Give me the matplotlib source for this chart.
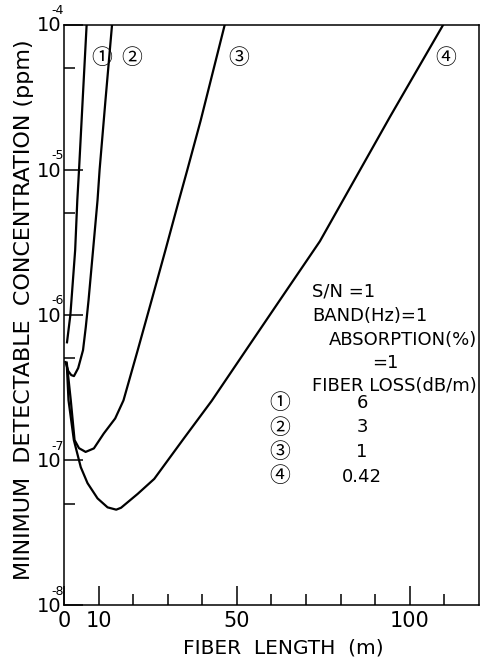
import matplotlib
matplotlib.use('Agg')
import matplotlib.pyplot as plt
from matplotlib.ticker import FixedLocator, NullFormatter

# fiber length (m) and minimum detectable concentration (ppm)
len_1 = [0.87, 1.85, 3.23, 3.85, 4.35, 5.40, 6.55]
conc_1 = [6.46e-7, 1.0e-6, 2.79e-6, 6.17e-6, 1.0e-5, 3.02e-5, 1.0e-4]

len_2 = [0.43, 1.24, 2.1, 2.88, 4.1, 5.5, 6.3, 7.1, 8.4, 9.7, 10.3, 12.0, 13.9]
conc_2 = [4.72e-7, 4.09e-7, 3.84e-7, 3.78e-7, 4.29e-7, 5.70e-7, 8.22e-7,
          1.26e-6, 2.78e-6, 6.17e-6, 1.0e-5, 3.02e-5, 1.0e-4]

len_3 = [0.8, 1.96, 3.06, 4.33, 6.25, 8.64, 11.5, 14.8, 17.2, 21.3, 25.3,
         29.3, 33.2, 35.6, 39.5, 46.5]
conc_3 = [4.68e-7, 2.58e-7, 1.37e-7, 1.205e-7, 1.135e-7, 1.20e-7, 1.52e-7,
          1.93e-7, 2.57e-7, 5.68e-7, 1.25e-6, 2.77e-6, 6.11e-6, 9.84e-6,
          2.17e-5, 1.0e-4]

len_4 = [0.8, 1.3, 2.85, 4.85, 6.8, 9.7, 12.6, 15.1, 16.5, 21.3, 26.1, 34.6,
         42.7, 53.1, 61.6, 74.0, 94.3, 109.7]
conc_4 = [4.57e-7, 2.58e-7, 1.37e-7, 8.91e-8, 6.92e-8, 5.43e-8, 4.71e-8,
          4.54e-8, 4.68e-8, 5.83e-8, 7.40e-8, 1.40e-7, 2.55e-7, 5.93e-7,
          1.18e-6, 3.21e-6, 2.32e-5, 1.0e-4]

curve_marks = ['\u2460', '\u2461', '\u2462', '\u2463']
mark_x = [11.0, 19.5, 50.5, 110.5]
fiber_loss = ['6', '3', '1', '0.42']
x_major = [0, 10, 50, 100]
x_minor = [20, 30, 40, 60, 70, 80, 90, 110]
y_major = [1e-8, 1e-7, 1e-6, 1e-5, 1e-4]
y_minor = [5e-8, 5e-7, 5e-6, 5e-5]
y_exps = ['-8', '-7', '-6', '-5', '-4']

plt.rcParams['font.family'] = ['DejaVu Sans', 'Noto Sans CJK JP']

fig = plt.figure(figsize=(4.9, 6.59), dpi=100)
ax = fig.add_axes([0.1306, 0.0819, 0.8469, 0.8809])

for xs, ys in [(len_1, conc_1), (len_2, conc_2), (len_3, conc_3), (len_4, conc_4)]:
    ax.plot(xs, ys, color='black', lw=1.6, solid_joinstyle='round')

ax.set_yscale('log')
ax.set_xlim(0, 120)
ax.set_ylim(1e-8, 1e-4)

# ticks drawn inside, as on the original plot
ax.yaxis.set_major_locator(FixedLocator(y_major))
ax.yaxis.set_minor_locator(FixedLocator(y_minor))
ax.yaxis.set_major_formatter(NullFormatter())
ax.yaxis.set_minor_formatter(NullFormatter())
ax.xaxis.set_major_locator(FixedLocator(x_major))
ax.xaxis.set_minor_locator(FixedLocator(x_minor))
ax.tick_params(which='major', direction='in', length=14, width=1.1, labelsize=15, pad=4)
ax.tick_params(which='minor', direction='in', length=8, width=1.1)
for sp in ax.spines.values():
    sp.set_linewidth(1.1)

# y tick labels: "10" with the exponent sitting just over the zero
for v, e in zip(y_major, y_exps):
    ax.annotate('10', xy=(0, v), xycoords=('axes fraction', 'data'),
                xytext=(-2, -1), textcoords='offset points',
                ha='right', va='center', fontsize=14)
    ax.annotate(e, xy=(0, v), xycoords=('axes fraction', 'data'),
                xytext=(-9, 10), textcoords='offset points',
                ha='left', va='center', fontsize=9)

fig.text(0.05, 0.53, 'MINIMUM  DETECTABLE  CONCENTRATION (ppm)', rotation=90,
         ha='center', va='center', fontsize=16)
fig.text(0.578, 0.017, 'FIBER  LENGTH  (m)', ha='center', va='center', fontsize=14.5)

# curve labels near the top
for m, xm in zip(curve_marks, mark_x):
    ax.text(xm, 5.9e-5, m, ha='center', va='center', fontsize=15,
            family=['Noto Sans CJK JP', 'DejaVu Sans'])

# condition text block
fig.text(312 / 490, 1 - 292 / 659, 'S/N =1', ha='left', va='center', fontsize=13)
fig.text(312 / 490, 1 - 316 / 659, 'BAND(Hz)=1', ha='left', va='center', fontsize=13)
fig.text(477 / 490, 1 - 340 / 659, 'ABSORPTION(%)', ha='right', va='center', fontsize=13)
fig.text(385 / 490, 1 - 363 / 659, '=1', ha='center', va='center', fontsize=13)
fig.text(477 / 490, 1 - 386 / 659, 'FIBER LOSS(dB/m)', ha='right', va='center', fontsize=13)
for i, (m, v) in enumerate(zip(curve_marks, fiber_loss)):
    yy = 1 - (403 + i * 24.5) / 659
    fig.text(280 / 490, yy, m, ha='center', va='center', fontsize=15,
             family=['Noto Sans CJK JP', 'DejaVu Sans'])
    fig.text(362 / 490, yy, v, ha='center', va='center', fontsize=13)

fig.savefig('out.png', dpi=100)
